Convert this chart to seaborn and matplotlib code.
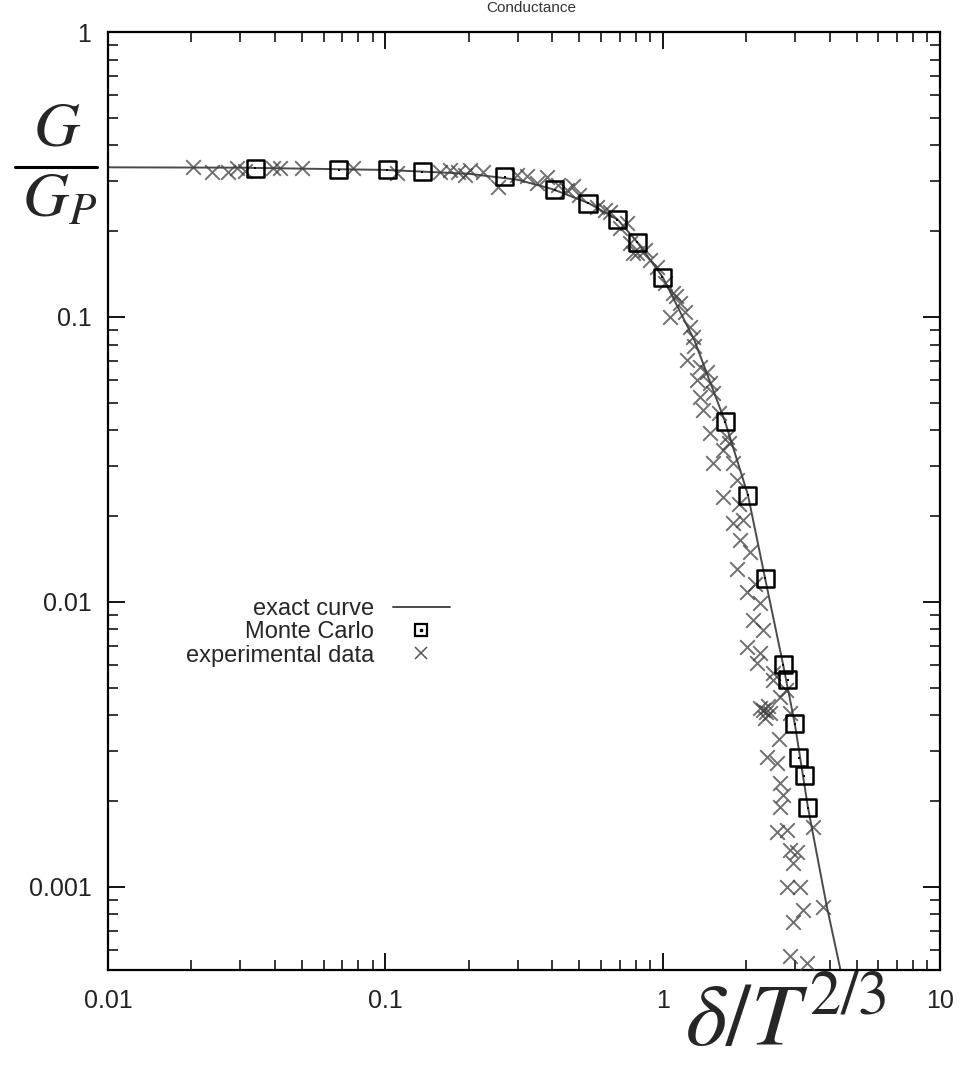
import numpy as np
import pandas as pd
import seaborn as sns
import matplotlib
matplotlib.use("Agg")
import matplotlib.pyplot as plt
from matplotlib.lines import Line2D
from matplotlib.legend_handler import HandlerTuple
from matplotlib.ticker import FixedLocator, LogLocator, NullFormatter

# ---------------- data ----------------
curve_x = [0.005, 0.01, 0.03, 0.1, 0.2, 0.3, 0.4, 0.54, 0.69, 0.81, 1.0, 1.3,
           1.68, 2.03, 2.34, 2.72, 3.0, 3.34, 3.9, 4.5]
curve_y = [0.335, 0.335, 0.334, 0.328, 0.318, 0.303, 0.281, 0.251, 0.219, 0.183,
           0.138, 0.083, 0.0428, 0.0237, 0.0121, 0.0060, 0.0037, 0.0019, 0.00086, 0.00045]

mc_x = [0.0339, 0.068, 0.1014, 0.1357, 0.270, 0.409, 0.538, 0.685, 0.809, 0.995,
        1.68, 2.03, 2.34, 2.72, 2.83, 3.0, 3.10, 3.24, 3.34]
mc_y = [0.333, 0.328, 0.328, 0.323, 0.310, 0.279, 0.251, 0.219, 0.183, 0.138,
        0.0428, 0.0237, 0.0121, 0.00601, 0.00532, 0.00373, 0.00284, 0.00245, 0.00189]

exp_x = [0.0203, 0.0237, 0.0271, 0.0292, 0.0312, 0.0394, 0.0417, 0.0501, 0.0765, 0.1102,
         0.1575, 0.171, 0.183, 0.194, 0.202, 0.225, 0.255, 0.299, 0.324, 0.352,
         0.383, 0.452, 0.475, 0.580, 0.646, 0.744, 0.782, 0.763, 0.809, 0.901,
         0.955, 1.09, 1.156, 1.064, 1.256, 1.288, 1.225, 1.364, 1.331, 1.483,
         1.364, 1.520, 1.40, 1.483, 1.707, 1.652, 1.520, 1.794, 1.854, 1.652,
         1.794, 1.95, 1.90, 2.07, 1.854, 2.01, 2.25, 2.12, 2.30, 2.01,
         2.25, 2.19, 2.50, 2.50, 2.65, 2.30, 2.44, 2.25, 2.88, 2.38,
         2.59, 2.65, 2.65, 3.49, 2.59, 2.81, 2.88, 3.05, 2.95, 2.81,
         3.13, 3.21, 2.95, 3.79, 2.88, 3.32,
         0.42, 0.50, 0.62, 0.70, 0.86, 1.02, 1.12, 1.20, 1.30, 1.44,
         1.60, 1.74, 1.88, 2.15, 2.36, 2.33, 2.40, 2.78, 2.62, 2.71]
exp_y = [0.336, 0.323, 0.323, 0.333, 0.326, 0.333, 0.333, 0.333, 0.333, 0.320,
         0.323, 0.328, 0.323, 0.315, 0.328, 0.323, 0.286, 0.315, 0.313, 0.295,
         0.310, 0.279, 0.288, 0.243, 0.234, 0.214, 0.168, 0.182, 0.168, 0.158,
         0.150, 0.121, 0.112, 0.100, 0.0923, 0.0851, 0.0707, 0.0668, 0.0601, 0.0587,
         0.0524, 0.0541, 0.0472, 0.0392, 0.0379, 0.0341, 0.0307, 0.0307, 0.0268, 0.0234,
         0.0189, 0.0194, 0.0165, 0.0149, 0.0130, 0.0108, 0.0099, 0.00865, 0.00798, 0.00695,
         0.00662, 0.00611, 0.00564, 0.00532, 0.00464, 0.00418, 0.00408, 0.00425, 0.00408, 0.00286,
         0.00272, 0.00232, 0.00191, 0.00162, 0.00155, 0.00158, 0.00135, 0.00132, 0.00121, 0.00100,
         0.00100, 0.00083, 0.00075, 0.00085, 0.00057, 0.00054,
         0.290, 0.268, 0.238, 0.205, 0.172, 0.132, 0.118, 0.104, 0.079, 0.064,
         0.046, 0.036, 0.022, 0.0115, 0.0041, 0.0039, 0.0043, 0.0049, 0.0033, 0.0021]

x_ticks = [0.01, 0.1, 1, 10]
x_labels = ["0.01", "0.1", "1", "10"]
y_ticks = [0.001, 0.01, 0.1, 1]
y_labels = ["0.001", "0.01", "0.1", "1"]

legend_labels = ["exact curve", "Monte Carlo", "experimental data"]

# ---------------- style ----------------
sns.set_style("ticks")
plt.rcParams["font.family"] = ["Liberation Sans", "DejaVu Sans"]
plt.rcParams["mathtext.fontset"] = "stix"

fig = plt.figure(figsize=(9.71, 10.68), dpi=100)
ax = fig.add_axes([108 / 971, 1 - 970 / 1068, 832 / 971, 938 / 1068])

curve_df = pd.DataFrame({"x": curve_x, "y": curve_y})
mc_df = pd.DataFrame({"x": mc_x, "y": mc_y})
exp_df = pd.DataFrame({"x": exp_x, "y": exp_y})

sns.lineplot(data=curve_df, x="x", y="y", ax=ax, color="#4a4a4a", linewidth=1.4,
             sort=False, estimator=None, zorder=2)
sns.scatterplot(data=exp_df, x="x", y="y", ax=ax, marker="x", s=110, color="#404040",
                linewidth=1.4, alpha=0.75, zorder=3)
sns.scatterplot(data=mc_df, x="x", y="y", ax=ax, marker="s", s=150, facecolor="none",
                edgecolor="black", linewidth=1.8, zorder=4)
sns.scatterplot(data=mc_df, x="x", y="y", ax=ax, marker="s", s=3, color="black",
                linewidth=0, zorder=5)

ax.set_xscale("log")
ax.set_yscale("log")
ax.set_xlim(0.01, 10)
ax.set_ylim(0.00051, 1)

ax.xaxis.set_major_locator(FixedLocator(x_ticks))
ax.set_xticklabels(x_labels)
ax.yaxis.set_major_locator(FixedLocator(y_ticks))
ax.set_yticklabels(y_labels)
ax.xaxis.set_minor_locator(LogLocator(base=10, subs=np.arange(2, 10)))
ax.yaxis.set_minor_locator(LogLocator(base=10, subs=np.arange(2, 10)))
ax.xaxis.set_minor_formatter(NullFormatter())
ax.yaxis.set_minor_formatter(NullFormatter())

ax.tick_params(which="both", direction="in", top=True, right=True, colors="black",
               labelsize=18, labelcolor="#222222")
ax.tick_params(which="major", length=12, width=1.3)
ax.tick_params(which="minor", length=7, width=1.1)
ax.tick_params(axis="x", pad=14)
ax.tick_params(axis="y", pad=12)
for sp in ax.spines.values():
    sp.set_linewidth(1.6)
    sp.set_color("black")
ax.set_xlabel("")
ax.set_ylabel("")

# legend
h_line = Line2D([], [], color="#4a4a4a", linewidth=1.4)
h_sq = Line2D([], [], marker="s", linestyle="none", markersize=9, markerfacecolor="none",
              markeredgecolor="black", markeredgewidth=1.6)
h_dot = Line2D([], [], marker="s", linestyle="none", markersize=1.5, color="black")
h_x = Line2D([], [], marker="x", linestyle="none", markersize=8, color="#555555",
             markeredgewidth=1.1)
ax.legend([h_line, (h_sq, h_dot), h_x], legend_labels,
          handler_map={tuple: HandlerTuple(ndivide=1)},
          markerfirst=False, frameon=False, loc="center right",
          bbox_to_anchor=(0.425, 0.36), fontsize=17, handlelength=2.4,
          labelspacing=0.05, handletextpad=0.8, borderpad=0)

# axis labels (large serif math)
fig.text(57 / 971, 1 - 128 / 1068, r"$G$", fontsize=46, ha="center", va="center")
fig.add_artist(Line2D([15 / 971, 97 / 971], [1 - 167 / 1068, 1 - 167 / 1068],
                      color="black", linewidth=2.2))
fig.text(60 / 971, 1 - 200 / 1068, r"$G_P$", fontsize=46, ha="center", va="center")
fig.text(786 / 971, 1 - 1046 / 1068, r"$\delta/T^{2/3}$", fontsize=64, ha="center",
         va="baseline")

# title at the top edge
fig.text(531 / 971, 1 - 1 / 1068, "Conductance", fontsize=11, ha="center",
         va="top", color="#333333")

fig.savefig("out.png", dpi=100)
